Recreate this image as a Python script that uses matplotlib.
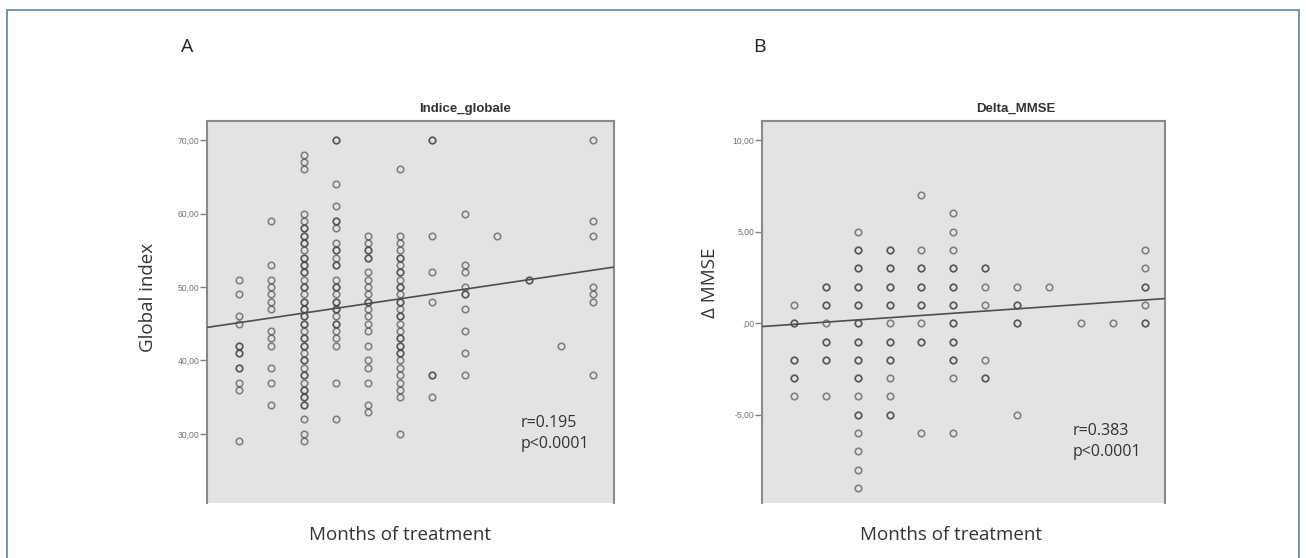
import numpy as np
import matplotlib.pyplot as plt
from matplotlib.patches import Rectangle

# Months of treatment (x positions of the point columns)
months = [1, 2, 3, 4, 5, 6, 7, 8, 9, 10, 11, 12]

# Global index per month (repeated values = overlapping subjects)
global_index_by_month = [
    [51, 49, 46, 45, 42, 42, 41, 41, 39, 39, 37, 36, 29],
    [59, 53, 51, 50, 49, 48, 47, 44, 43, 42, 39, 37, 34],
    [68, 67, 66, 60, 59, 58, 58, 57, 57, 56, 56, 55, 54, 54, 53, 53, 52, 52,
     51, 50, 50, 49, 48, 48, 47, 47, 46, 46, 45, 45, 44, 43, 43, 42, 42, 41,
     40, 40, 39, 38, 38, 37, 36, 36, 35, 35, 34, 34, 32, 30, 29],
    [70, 70, 64, 61, 59, 59, 58, 56, 55, 55, 54, 53, 53, 51, 50, 50, 49, 48,
     48, 47, 47, 46, 45, 45, 44, 43, 42, 37, 32],
    [57, 56, 55, 55, 54, 54, 52, 51, 50, 49, 48, 48, 47, 46, 45, 44, 42, 40,
     39, 37, 34, 33],
    [66, 57, 56, 55, 54, 54, 53, 52, 52, 51, 50, 50, 49, 48, 48, 47, 46, 46,
     45, 44, 43, 43, 42, 42, 41, 41, 40, 39, 38, 37, 36, 35, 30],
    [70, 70, 57, 52, 48, 38, 38, 35],
    [60, 53, 52, 50, 49, 49, 47, 44, 41, 38],
    [57],
    [51, 51],
    [42],
    [70, 59, 57, 50, 49, 48, 38],
]

# Change in MMSE per month
delta_mmse_by_month = [
    [1, 0, 0, -2, -2, -3, -3, -4],
    [2, 2, 1, 1, 0, -1, -1, -2, -2, -4],
    [5, 4, 4, 3, 3, 2, 2, 1, 1, 0, 0, -1, -1, -2, -2, -3, -3, -4, -5, -5,
     -6, -7, -8, -9],
    [4, 4, 3, 3, 2, 2, 1, 1, 0, -1, -1, -2, -2, -3, -4, -5, -5],
    [7, 4, 3, 3, 2, 2, 1, 1, 0, -1, -1, -6],
    [6, 5, 4, 3, 3, 2, 2, 1, 1, 0, 0, -1, -1, -2, -2, -3, -6],
    [3, 3, 2, 1, -2, -3, -3],
    [2, 1, 1, 0, 0, -5],
    [2],
    [0],
    [0],
    [4, 3, 2, 2, 1, 0, 0],
]

# Linear fit lines (intercept, slope)
fit_a = (44.5, 0.65)
fit_b = (-0.18, 0.121)

ticks_a = [30, 40, 50, 60, 70]
tick_labels_a = ['30,00', '40,00', '50,00', '60,00', '70,00']
ticks_b = [-5, 0, 5, 10]
tick_labels_b = ['-5,00', ',00', '5,00', '10,00']

W, H = 1306, 558
fig = plt.figure(figsize=(W / 100, H / 100), dpi=100)


def px_axes(left, top, right, bottom):
    return fig.add_axes([left / W, 1 - bottom / H, (right - left) / W, (bottom - top) / H])


def scatter_panel(ax, values, fit, ylim, ticks, labels, stats, stats_y):
    ax.set_facecolor('#e2e3e5')
    for m, vals in zip(months, values):
        ax.plot([m] * len(vals), vals, 'o', ms=4.7, mfc='none',
                mec=(0.25, 0.25, 0.25, 0.62), mew=1.15, zorder=3)
    ax.set_xlim(0, 12.64)
    ax.set_ylim(*ylim)
    x = np.array(ax.get_xlim())
    ax.plot(x, fit[0] + fit[1] * x, color='#4d4d4d', lw=1.2, zorder=4)
    ax.set_xticks([])
    ax.set_yticks(ticks)
    ax.set_yticklabels(labels, fontsize=6.2, color='#707070', family='Liberation Sans')
    ax.tick_params(axis='y', length=5, width=1.0, color='#808080', pad=0.5)
    for side in ['left', 'right', 'top']:
        ax.spines[side].set_color('#8a8a8a')
        ax.spines[side].set_linewidth(1.5)
    ax.spines['bottom'].set_visible(False)
    ax.text(0.77, stats_y, stats, transform=ax.transAxes, fontsize=11.5,
            color='#333333', family='Open Sans', va='center', linespacing=1.35)
    return ax


ax_a = px_axes(207, 121, 614, 503)
scatter_panel(ax_a, global_index_by_month, fit_a, (20.6, 72.6), ticks_a,
              tick_labels_a, 'r=0.195\np<0.0001', 0.182)
ax_b = px_axes(762, 121, 1165, 503)
scatter_panel(ax_b, delta_mmse_by_month, fit_b, (-9.82, 11.05), ticks_b,
              tick_labels_b, 'r=0.383\np<0.0001', 0.161)

# Titles, axis labels and panel letters
fig.text(465 / W, 1 - 109 / H, 'Indice_globale', ha='center', va='center',
         fontsize=9.5, fontweight='bold', color='#333333', family='Liberation Sans')
fig.text(1016 / W, 1 - 109 / H, 'Delta_MMSE', ha='center', va='center',
         fontsize=9.5, fontweight='bold', color='#333333', family='Liberation Sans')
fig.text(148 / W, 1 - 297 / H, 'Global index', rotation=90, ha='center', va='center',
         fontsize=13.5, color='#333333', family='Open Sans')
fig.text(710 / W, 1 - 283 / H, 'Δ MMSE', rotation=90, ha='center', va='center',
         fontsize=13.5, color='#333333', family='Open Sans')
fig.text(400 / W, 1 - 535 / H, 'Months of treatment', ha='center', va='center',
         fontsize=13.5, color='#333333', family='Open Sans')
fig.text(951 / W, 1 - 535 / H, 'Months of treatment', ha='center', va='center',
         fontsize=13.5, color='#333333', family='Open Sans')
fig.text(187 / W, 1 - 47 / H, 'A', ha='center', va='center',
         fontsize=14, color='#222222', family='Open Sans')
fig.text(759 / W, 1 - 47 / H, 'B', ha='center', va='center',
         fontsize=14, color='#222222', family='Open Sans')

# Outer frame
fig.patches.append(Rectangle((7 / W, -0.05), (1299 - 7) / W, 1.05 - 10 / H,
                             transform=fig.transFigure, fill=False,
                             edgecolor='#6f8aa2', lw=1.3))

fig.savefig('out.png', dpi=100)
